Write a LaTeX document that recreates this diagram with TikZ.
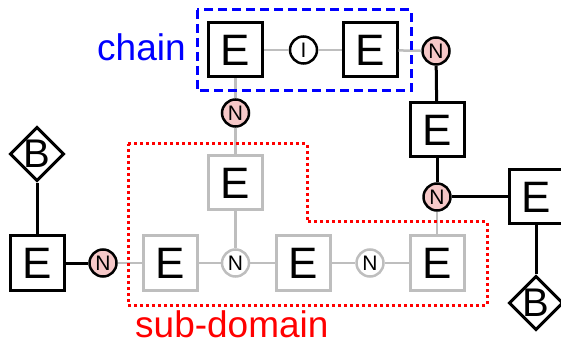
\documentclass[tikz,border=0pt]{standalone}
\usepackage{fontspec}
\setmainfont{Liberation Sans}
\usetikzlibrary{shapes.geometric}
\definecolor{nodepink}{RGB}{246,200,200}
\definecolor{faded}{RGB}{190,190,190}
\definecolor{chainblue}{RGB}{0,0,255}
\definecolor{domred}{RGB}{255,0,0}
\tikzset{
  ebox/.style={draw=black, line width=3pt, fill=white, minimum size=54pt,
    inner sep=0pt, font=\fontsize{44}{44}\selectfont},
  gbox/.style={ebox, draw=faded},
  nball/.style={circle, draw=black, line width=2.5pt, fill=nodepink,
    minimum size=27pt, inner sep=0pt, font=\fontsize{21}{21}\selectfont},
  gball/.style={nball, draw=faded, fill=white},
  iball/.style={nball, fill=white},
  bdia/.style={diamond, aspect=1, draw=black, line width=3pt, fill=white,
    minimum size=54pt, inner sep=0pt, font=\fontsize{40}{40}\selectfont},
  solid link/.style={draw=black, line width=3pt},
  faded link/.style={draw=faded, line width=2.5pt},
  label text/.style={inner sep=0pt, anchor=base west,
    font=\fontsize{37}{37}\selectfont},
}
\begin{document}
\begin{tikzpicture}[x=1pt, y=-1pt]
\useasboundingbox (0,0) rectangle (561,344);

% chain row
\node[ebox]  (ca) at (235.5,50) {E};
\node[iball] (ci) at (303.5,50) {I};
\node[ebox]  (cb) at (370,50) {E};
\node[nball] (cn) at (436,51) {N};
\node[nball] (tn) at (235.5,113) {N};

% right column
\node[ebox]  (re) at (437,130) {E};
\node[nball] (rn) at (437,197) {N};
\node[ebox]  (rr) at (536,197) {E};
\node[bdia]  (rb) at (536,303) {B};

% left column
\node[bdia]  (lb) at (37,154) {B};
\node[ebox]  (le) at (37,263) {E};
\node[nball] (ln) at (103,263) {N};

% sub-domain members
\node[gbox]  (g1) at (170,263) {E};
\node[gbox]  (g2) at (235.5,183) {E};
\node[gball] (gn1) at (235.5,263) {N};
\node[gbox]  (g3) at (303,263) {E};
\node[gball] (gn2) at (370,263) {N};
\node[gbox]  (g4) at (437,263) {E};

% links
\draw[faded link] (ca) -- (ci);
\draw[faded link] (ci) -- (cb);
\draw[faded link] (cb) -- (cn);
\draw[faded link] (ca) -- (tn);
\draw[faded link] (tn) -- (g2);
\draw[faded link] (g2) -- (gn1);
\draw[faded link] (g1) -- (gn1);
\draw[faded link] (gn1) -- (g3);
\draw[faded link] (g3) -- (gn2);
\draw[faded link] (gn2) -- (g4);
\draw[faded link] (ln) -- (g1);
\draw[faded link] (rn) -- (g4);
\draw[solid link] (cn) -- (re);
\draw[solid link] (re) -- (rn);
\draw[solid link] (rn) -- (rr);
\draw[solid link] (rr) -- (rb);
\draw[solid link] (lb) -- (le);
\draw[solid link] (le) -- (ln);

% group frames
\draw[chainblue, line width=3pt, dash pattern=on 9pt off 5pt]
  (197,10) rectangle (411,91);
\draw[domred, line width=3pt, dash pattern=on 3pt off 3pt]
  (128,144) -- (307,144) -- (307,222) -- (487,222) -- (487,305) -- (128,305) -- cycle;

% labels
\node[label text, text=chainblue] (chainlbl) at (97,61) {chain};
\node[label text, text=domred] (domlbl) at (135,337) {sub-domain};
\end{tikzpicture}
\end{document}
